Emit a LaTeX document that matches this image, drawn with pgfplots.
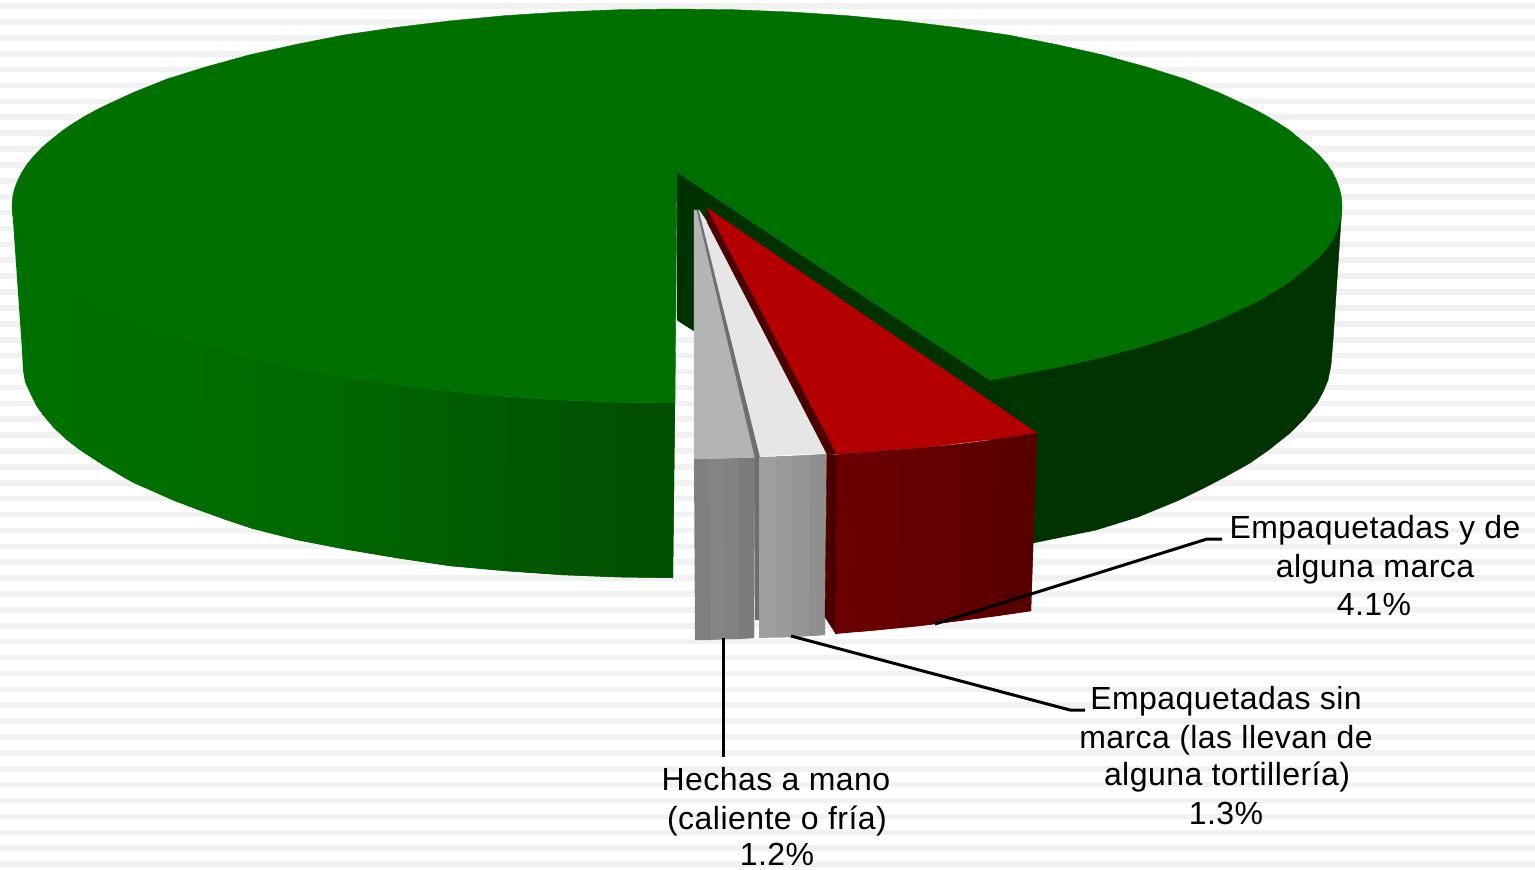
\documentclass[border=0pt]{standalone}
\usepackage{fontspec}
\setmainfont[LetterSpace=1.4]{Liberation Sans}
\usepackage{pgfplots}
\pgfplotsset{compat=1.18}

\definecolor{stripe}{HTML}{F1F1F1}
\definecolor{top}{HTML}{007000}
\definecolor{inner}{HTML}{003200}
\definecolor{wallr}{HTML}{003300}
\definecolor{wallrb}{HTML}{003500}
\definecolor{greytop}{HTML}{B4B4B4}
\definecolor{greygap}{HTML}{6E6E6E}
\definecolor{lighttop}{HTML}{E6E6E6}
\definecolor{redtop}{HTML}{B40000}
\definecolor{redside}{HTML}{4A0000}

\pgfplotsset{
    face/.style={fill=#1, draw=#1, line width=0.2pt, no markers, forget plot},
    % wall bands overlap the next band, so they go without an outline
    band/.style={fill=#1, draw=none, no markers, forget plot},
    lead/.style={black, line width=1.5pt, no markers, forget plot},
}
\tikzset{lab/.style={anchor=base, inner sep=0pt, font=\fontsize{16}{19}\selectfont}}

\begin{document}
\begin{tikzpicture}
\begin{axis}[
    scale only axis,
    width=767.5pt, height=434.5pt,
    xmin=0, xmax=1535, ymin=0, ymax=869,
    y dir=reverse,
    ticks=none,
    axis line style={draw=none},
]
% background stripes
\addplot[xcomb, stripe, line width=2.8pt, no markers, forget plot] table {
1535 6
1535 21.9
1535 37.8
1535 53.7
1535 69.6
1535 85.5
1535 101.3
1535 117.2
1535 133.1
1535 149
1535 164.9
1535 180.8
1535 196.7
1535 212.6
1535 228.5
1535 244.4
1535 260.2
1535 276.1
1535 292
1535 307.9
1535 323.8
1535 339.7
1535 355.6
1535 371.5
1535 387.4
1535 403.3
1535 419.1
1535 435
1535 450.9
1535 466.8
1535 482.7
1535 498.6
1535 514.5
1535 530.4
1535 546.3
1535 562.2
1535 578
1535 593.9
1535 609.8
1535 625.7
1535 641.6
1535 657.5
1535 673.4
1535 689.3
1535 705.2
1535 721.1
1535 736.9
1535 752.8
1535 768.7
1535 784.6
1535 800.5
1535 816.4
1535 832.3
1535 848.2
1535 864.1
};

% green, outer wall on the left
\addplot[band=green!43.9!black] coordinates {(12,206)(14.5,223.2)(22,240)(34.6,257)(52,273)(54,428)(43,415)(36,405)(30,393)(25,382)(23,370)(22,350)} --cycle;
\addplot[band=green!43.9!black] coordinates {(34.6,257)(52,273)(74.2,289.3)(76,447)(67,440)(54,428)(43,415)(36,405)} --cycle;
\addplot[band=green!43.9!black] coordinates {(52,273)(74.2,289.3)(101,304.5)(103,465)(83,452)(76,447)(67,440)(54,428)} --cycle;
\addplot[band=green!43.5!black] coordinates {(74.2,289.3)(101,304.5)(132.1,319)(134,483)(125,478)(103,465)(83,452)(76,447)} --cycle;
\addplot[band=green!43.5!black] coordinates {(101,304.5)(132.1,319)(167,333)(168,498)(150,490)(134,483)(125,478)(103,465)} --cycle;
\addplot[band=green!43.1!black] coordinates {(132.1,319)(167,333)(206.5,345.3)(208,513.3)(200,510.5)(175,501)(168,498)(150,490)(134,483)} --cycle;
\addplot[band=green!42.7!black] coordinates {(167,333)(206.5,345.3)(249,357)(252,528.5)(225,519.5)(208,513.3)(200,510.5)(175,501)(168,498)} --cycle;
\addplot[band=green!42.4!black] coordinates {(206.5,345.3)(249,357)(295.1,367.4)(297,540)(252,528.5)(225,519.5)(208,513.3)} --cycle;
\addplot[band=green!41.6!black] coordinates {(249,357)(295.1,367.4)(344,377)(346,549.5)(297,540)(252,528.5)} --cycle;
\addplot[band=green!40.8!black] coordinates {(295.1,367.4)(344,377)(395.4,384.5)(396.6,558)(346,549.5)(297,540)} --cycle;
\addplot[band=green!39.6!black] coordinates {(344,377)(395.4,384.5)(449,391)(450,566)(396.6,558)(346,549.5)} --cycle;
\addplot[band=green!38!black] coordinates {(395.4,384.5)(449,391)(504.2,396.3)(505,571)(450,566)(396.6,558)} --cycle;
\addplot[band=green!36.1!black] coordinates {(449,391)(504.2,396.3)(561,400)(562,575)(505,571)(450,566)} --cycle;
\addplot[band=green!34.1!black] coordinates {(504.2,396.3)(561,400)(618.1,402.3)(619,577.2)(562,575)(505,571)} --cycle;
\addplot[band=green!32.5!black] coordinates {(561,400)(618.1,402.3)(675,403)(673,578)(619,577.2)(562,575)} --cycle;
\addplot[band=green!31.4!black] coordinates {(618.1,402.3)(675,403)(673,578)(619,577.2)} --cycle;

% green, outer wall on the right
\addplot[face=wallr] coordinates {
    (988,380)(1056.9,367.4)(1103,357)(1145.5,345.3)(1185,333)(1219.9,319)(1251,304.5)
    (1277.8,289.3)(1300,273)(1317.4,257)(1332,240)(1339.5,223.2)(1342,206)
    (1333,340)(1331,365)(1328,380)(1323,392)(1317,403)(1305,418)(1290,433)(1270,449)
    (1250,463)(1225,477)(1200,490)(1177,501)(1138,517)(1096,530)(1033,543)(988,552)
} --cycle;
\addplot[face=wallrb] coordinates {(988,380)(1010,376)(1040,370)(1040,440)(988,440)} --cycle;

% inside of the cut
\addplot[face=inner] coordinates {(677,172)(990,380)(1037,433)(837,454)(694,331)(677,320)} --cycle;

% green, top
\addplot[face=top] coordinates {
    (677,172)(990,380)(1056.9,367.4)(1103,357)(1145.5,345.3)(1185,333)(1219.9,319)
    (1251,304.5)(1265,297)(1277.8,289.3)(1290,281.4)(1300,273)(1310,265.2)(1319,257)
    (1326.5,248.6)(1332.5,240)(1336.5,231.7)(1339.5,223.2)(1341.5,214.6)(1342,206)
    (1341.5,197.4)(1339.5,188.8)(1336.5,180.3)(1332.5,172)(1326.5,163.4)(1319,155)
    (1310,146.8)(1300,139)(1290,130.6)(1277.8,122.7)(1265,115)(1251,107.5)(1219.9,93)
    (1185,79)(1145.5,66.7)(1103,55)(1056.9,44.6)(1008,35)(956.6,27.5)(903,21)(847.8,15.7)
    (791,12)(733.9,9.7)(676,9)(618.1,9.7)(561,12)(504.2,15.7)(449,21)(395.4,27.5)(344,35)
    (295.1,44.6)(249,55)(206.5,66.7)(167,79)(132.1,93)(101,107.5)(87,115)(74.2,122.7)
    (62.5,130.6)(52,139)(42.7,146.8)(34.6,155)(27.7,163.4)(22,172)(17.7,180.3)(14.5,188.8)
    (12.6,197.4)(12,206)(12.6,214.6)(14.5,223.2)(17.7,231.7)(22,240)(27.7,248.6)(34.6,257)
    (42.7,265.2)(52,273)(62.5,281.4)(74.2,289.3)(87,297)(101,304.5)(132.1,319)(167,333)
    (206.5,345.3)(249,357)(295.1,367.4)(344,377)(395.4,384.5)
    (449,391)(504.2,396.3)(561,400)(618.1,402.3)(675,403)
} --cycle;

% Hechas a mano
\addplot[face=greytop] coordinates {(694,210)(697,210)(755,458)(694,459)} --cycle;
\addplot[band=black!49.8] coordinates {(694,459)(724,459)(725,639)(710,640)(695,640)} --cycle;
\addplot[band=black!48.2] coordinates {(709,459)(739,458)(739,639)(725,639)(710,640)} --cycle;
\addplot[band=black!49] coordinates {(724,459)(755,458)(754,638)(739,639)(725,639)} --cycle;
\addplot[band=black!51.8] coordinates {(739,458)(755,458)(754,638)(739,639)} --cycle;
\addplot[face=greygap] coordinates {(697,210)(699,210)(760,456)(755,458)} --cycle;
\addplot[face=greygap] coordinates {(755,458)(760,456)(759,620)(755,620)} --cycle;

% Empaquetadas sin marca
\addplot[face=lighttop] coordinates {(699,210)(707,222)(827,453)(760,456)} --cycle;
\addplot[band=black!38] coordinates {(759,457)(793,456)(792,637)(776,637.5)(759,638)} --cycle;
\addplot[band=black!39.6] coordinates {(776,456.5)(810,455)(809,636)(792,637)(776,637.5)} --cycle;
\addplot[band=black!41.6] coordinates {(793,456)(827,454)(825,635)(809,636)(792,637)} --cycle;
\addplot[band=black!43.9] coordinates {(810,455)(827,454)(825,635)(809,636)} --cycle;

% Empaquetadas y de alguna marca
\addplot[face=redside] coordinates {(707,208)(837,454)(827,454)(707,222)} --cycle;
\addplot[face=redside] coordinates {(827,454)(838,455)(836,634)(825,617)} --cycle;
\addplot[face=redtop] coordinates {(707,208)(1037,433)(987,440)(920,448)(837,454)} --cycle;
\addplot[band=red!42!black] coordinates {(837,454)(858.5,452.5)(880,451)(879,630)(857,632)(835,634)} --cycle;
\addplot[band=red!41.6!black] coordinates {(858.5,452.5)(880,451)(900,449.5)(899,628)(879,630)(857,632)} --cycle;
\addplot[band=red!40.8!black] coordinates {(880,451)(900,449.5)(920,448)(919,626)(899,628)(879,630)} --cycle;
\addplot[band=red!40!black] coordinates {(900,449.5)(920,448)(940,446)(939,623.5)(919,626)(899,628)} --cycle;
\addplot[band=red!39.2!black] coordinates {(920,448)(940,446)(960,444)(959,621)(939,623.5)(919,626)} --cycle;
\addplot[band=red!38.4!black] coordinates {(940,446)(960,444)(980,441.5)(978,618.5)(959,621)(939,623.5)} --cycle;
\addplot[band=red!37.3!black] coordinates {(960,444)(980,441.5)(1000,439)(997,616)(978,618.5)(959,621)} --cycle;
\addplot[band=red!36.1!black] coordinates {(980,441.5)(1000,439)(1018.5,436)(1014,613.5)(997,616)(978,618.5)} --cycle;
\addplot[band=red!34.5!black] coordinates {(1000,439)(1018.5,436)(1037,433)(1031,611)(1014,613.5)(997,616)} --cycle;
\addplot[band=red!33.7!black] coordinates {(1018.5,436)(1037,433)(1031,611)(1014,613.5)} --cycle;

% leader lines
\addplot[lead] coordinates {(723,638)(723,757)};
\addplot[lead] coordinates {(791,636)(1070,710)(1085,710)};
\addplot[lead] coordinates {(935,624)(1207,539)(1222,539)};

% labels
\node[lab] at (axis cs:1375,538) {Empaquetadas y de};
\node[lab] at (axis cs:1375,577) {alguna marca};
\node[lab] at (axis cs:1374,615) {4.1\%};
\node[lab] at (axis cs:1226,709) {Empaquetadas sin};
\node[lab] at (axis cs:1226,748) {marca (las llevan de};
\node[lab] at (axis cs:1227,785) {alguna tortillería)};
\node[lab] at (axis cs:1226,824) {1.3\%};
\node[lab] at (axis cs:776,790) {Hechas a mano};
\node[lab] at (axis cs:777,829) {(caliente o fría)};
\node[lab] at (axis cs:777,865) {1.2\%};
\end{axis}
\end{tikzpicture}
\end{document}
